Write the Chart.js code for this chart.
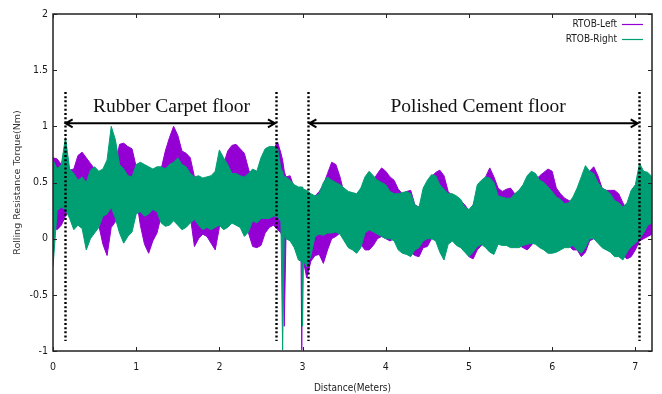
<!DOCTYPE html>
<html><head><meta charset="utf-8">
<script src="https://cdn.jsdelivr.net/npm/chart.js@4.4.0/dist/chart.umd.min.js"></script>
<style>html,body{margin:0;padding:0;background:#fff;}#wrap{width:662px;height:394px;}</style>
</head><body><div id="wrap"><canvas id="c" width="662" height="394"></canvas></div>
<script>
const distance = [0,0.05,0.1,0.15,0.2,0.25,0.3,0.35,0.4,0.45,0.5,0.55,0.6,0.65,0.7,0.75,0.8,0.85,0.9,0.95,1,1.05,1.1,1.15,1.2,1.25,1.3,1.35,1.4,1.45,1.5,1.55,1.6,1.65,1.7,1.75,1.8,1.85,1.9,1.95,2,2.05,2.1,2.15,2.2,2.25,2.3,2.35,2.4,2.45,2.5,2.55,2.6,
 2.65,2.7,2.74,2.76,2.78,2.8,2.85,2.9,2.95,2.98,2.99,3,3.01,3.05,3.1,
 3.15,3.2,3.25,3.3,3.35,3.4,3.45,3.5,3.55,3.6,3.65,3.7,3.75,3.8,3.85,3.9,3.95,4,4.05,4.1,4.15,4.2,4.25,4.3,4.35,4.4,4.45,4.5,4.55,4.6,4.65,4.7,4.75,4.8,4.85,4.9,4.95,5,5.05,5.1,5.15,5.2,5.25,5.3,5.35,5.4,5.45,5.5,5.55,5.6,5.65,5.7,5.75,5.8,5.85,5.9,5.95,6,6.05,6.1,6.15,6.2,6.25,6.3,6.35,6.4,6.45,6.5,6.55,6.6,6.65,6.7,6.75,6.8,6.85,6.9,6.95,7,7.05,7.1,7.15,7.2];

// RTOB-Left: upper and lower edge of the signal band
const leftHigh = [0.72,0.71,0.66,0.64,0.61,0.62,0.74,0.77,0.72,0.67,
 0.62,0.55,0.50,0.48,0.55,0.66,0.84,0.85,0.82,0.80,
 0.64,0.55,0.40,0.36,0.38,0.50,0.62,0.78,0.90,1.00,
 0.92,0.78,0.76,0.72,0.55,0.46,0.44,0.42,0.40,0.42,
 0.58,0.66,0.78,0.83,0.84,0.80,0.76,0.62,0.50,0.45,
 0.48,0.55,0.70,
 0.80,0.86,0.76,0.70,0.60,0.55,0.56,0.45,0.40,0.36,0.35,0.35,0.34,0.30,0.32,
 0.38,0.42,0.48,0.58,0.68,0.66,0.55,
 0.40,0.36,0.35,0.34,0.38,0.48,0.50,0.52,0.58,0.63,
 0.60,0.55,0.52,0.44,0.40,0.42,0.43,0.30,0.28,0.34,
 0.40,0.55,0.59,0.61,0.56,0.42,0.38,0.36,0.34,0.30,
 0.25,0.30,0.40,0.48,0.55,0.63,0.55,0.45,0.42,0.44,
 0.45,0.40,0.38,0.40,0.45,0.50,0.52,0.56,0.59,0.62,
 0.60,0.45,0.40,0.36,0.34,0.32,0.30,0.40,0.55,0.60,
 0.64,0.56,0.45,0.43,0.43,0.43,0.40,0.32,0.25,0.22,
 0.30,0.55,0.52,0.45,0.40];
const leftLow = [0.10,0.08,0.12,0.20,0.30,0.32,0.30,0.34,0.30,0.32,
 0.22,0.12,-0.05,-0.15,0.10,0.15,0.28,0.32,0.40,0.44,
 0.36,0.12,-0.05,-0.13,-0.02,0.05,0.20,0.32,0.36,0.40,
 0.50,0.46,0.44,0.20,-0.07,0.00,0.04,0.02,-0.04,-0.10,
 0.10,0.18,0.22,0.25,0.30,0.25,0.15,0.05,-0.07,-0.08,
 -0.06,0.05,0.10,
 0.12,0.08,0.05,0.00,-0.78,0.00,0.02,0.05,0.00,-0.05,-0.99,-0.10,-0.20,-0.35,-0.20,
 -0.15,-0.14,-0.22,-0.10,0.00,0.02,0.05,
 0.02,0.05,0.03,0.00,-0.05,-0.10,-0.10,-0.06,0.00,0.02,
 0.00,-0.02,0.00,-0.05,-0.08,-0.10,-0.12,-0.15,-0.16,-0.08,
 -0.07,0.00,0.02,0.05,0.06,0.06,0.08,0.04,0.00,-0.10,
 -0.16,-0.18,-0.10,-0.06,-0.02,0.05,0.06,0.02,0.00,0.00,
 0.00,-0.04,-0.06,-0.08,-0.10,-0.06,0.00,0.02,0.00,0.00,
 0.02,0.00,0.00,-0.04,-0.06,-0.10,-0.10,-0.16,-0.12,-0.02,
 0.00,0.02,0.00,-0.02,-0.05,-0.08,-0.10,-0.15,-0.18,-0.16,
 -0.10,-0.02,0.00,0.02,0.04];

// RTOB-Right: upper and lower edge of the signal band
const rightHigh = [0.70,0.62,0.66,0.90,0.62,0.58,0.52,0.55,0.50,0.61,
 0.64,0.60,0.62,0.70,1.00,0.88,0.66,0.62,0.56,0.55,
 0.66,0.68,0.66,0.64,0.62,0.64,0.64,0.62,0.66,0.68,
 0.72,0.66,0.64,0.58,0.55,0.56,0.54,0.55,0.56,0.60,
 0.79,0.72,0.66,0.58,0.58,0.56,0.55,0.58,0.62,0.60,
 0.72,0.80,0.82,
 0.82,0.80,0.62,0.60,0.55,0.55,0.52,0.48,0.46,0.46,0.46,0.46,0.44,0.43,0.40,
 0.38,0.40,0.50,0.55,0.52,0.50,0.48,
 0.45,0.42,0.41,0.40,0.45,0.55,0.60,0.56,0.52,0.50,
 0.48,0.42,0.40,0.40,0.41,0.42,0.40,0.30,0.28,0.45,
 0.52,0.57,0.56,0.48,0.44,0.40,0.40,0.38,0.35,0.28,
 0.26,0.30,0.48,0.52,0.55,0.54,0.50,0.38,0.37,0.36,
 0.36,0.40,0.43,0.48,0.56,0.60,0.58,0.52,0.50,0.46,
 0.42,0.37,0.35,0.31,0.32,0.37,0.45,0.55,0.65,0.60,
 0.58,0.50,0.45,0.43,0.40,0.34,0.32,0.28,0.32,0.43,
 0.48,0.67,0.60,0.59,0.55];
const rightLow = [-0.25,0.25,0.28,0.26,0.18,0.08,0.12,0.09,-0.10,0.00,
 0.05,0.10,0.20,0.22,0.28,0.18,0.05,-0.04,0.02,0.06,
 0.22,0.24,0.20,0.22,0.26,0.24,0.14,0.11,0.12,0.16,
 0.12,0.08,0.10,0.14,0.17,0.12,0.08,0.10,0.08,0.10,
 0.12,0.08,0.10,0.14,0.12,0.10,0.02,0.06,0.16,0.14,
 0.18,0.18,0.18,
 0.20,0.20,0.15,-0.99,0.05,0.00,-0.02,-0.08,-0.19,-0.20,-0.15,-0.78,-0.20,-0.25,-0.15,
 0.02,0.04,0.03,0.05,0.05,0.06,0.04,
 -0.02,-0.08,-0.10,-0.13,-0.08,0.05,0.08,0.06,0.04,0.02,
 0.00,0.00,-0.02,-0.10,-0.13,-0.14,-0.16,-0.10,-0.08,-0.02,
 0.00,0.00,-0.02,-0.12,-0.19,-0.05,-0.02,-0.06,-0.08,-0.12,
 -0.16,-0.12,-0.07,-0.05,-0.08,-0.12,-0.14,-0.05,-0.06,-0.06,
 -0.08,-0.08,-0.08,-0.06,-0.05,-0.04,-0.05,-0.08,-0.10,-0.13,
 -0.13,-0.12,-0.10,-0.08,-0.08,-0.06,-0.10,-0.13,-0.08,0.00,
 0.00,-0.04,-0.08,-0.10,-0.12,-0.16,-0.16,-0.19,-0.12,-0.07,
 -0.04,0.00,0.05,0.12,0.14];

const seriesNames = ['RTOB-Left', 'RTOB-Right'];
const xTickValues = [0, 1, 2, 3, 4, 5, 6, 7];
const xTickLabels = ['0', '1', '2', '3', '4', '5', '6', '7'];
const yTickValues = [-1, -0.5, 0, 0.5, 1, 1.5, 2];
const yTickLabels = ['-1', '-0.5', '0', '0.5', '1', '1.5', '2'];
const markerDistances = [0.14, 2.68, 3.07, 7.04];
const regionNames = ['Rubber Carpet floor', 'Polished Cement floor'];
const regionFrom = [0.14, 3.07];
const regionTo = [2.68, 7.04];
const regionLabelAt = [1.425, 5.11];

const PURPLE = '#9400d3';
const GREEN = '#009e73';
const NARROW = "'Liberation Sans Narrow','DejaVu Sans Condensed','Liberation Sans',sans-serif";
const TXT = '#1a1a1a';

function pts(arr) { return distance.map((x, i) => ({ x: x, y: arr[i] })); }

const overlay = {
  id: 'overlay',
  afterDatasetsDraw(chart) {
    const { ctx, chartArea: a, scales: { x, y } } = chart;
    ctx.save();
    // vertical dotted markers
    ctx.strokeStyle = '#000';
    ctx.lineWidth = 2.4;
    ctx.setLineDash([2, 2.2]);
    markerDistances.forEach(d => {
      const px = Math.round(x.getPixelForValue(d)) + 0.5;
      ctx.beginPath();
      ctx.moveTo(px, y.getPixelForValue(1.306));
      ctx.lineTo(px, y.getPixelForValue(-0.91));
      ctx.stroke();
    });
    ctx.setLineDash([]);
    // arrows and region labels
    const ay = y.getPixelForValue(1.027);
    ctx.lineWidth = 2;
    regionFrom.forEach((f, k) => {
      const x1 = x.getPixelForValue(f) + 1, x2 = x.getPixelForValue(regionTo[k]) - 1;
      ctx.beginPath();
      ctx.moveTo(x1, ay); ctx.lineTo(x2, ay);
      ctx.moveTo(x1 + 7, ay - 4); ctx.lineTo(x1, ay); ctx.lineTo(x1 + 7, ay + 4);
      ctx.moveTo(x2 - 7, ay - 4); ctx.lineTo(x2, ay); ctx.lineTo(x2 - 7, ay + 4);
      ctx.stroke();
      ctx.fillStyle = '#111';
      ctx.font = "19.5px 'Liberation Serif','DejaVu Serif',serif";
      ctx.textAlign = 'center';
      ctx.textBaseline = 'alphabetic';
      ctx.fillText(regionNames[k], x.getPixelForValue(regionLabelAt[k]), y.getPixelForValue(1.128));
    });
    // frame
    ctx.strokeStyle = '#222';
    ctx.lineWidth = 1.5;
    ctx.strokeRect(a.left, a.top, a.right - a.left, a.bottom - a.top);
    // inward ticks (mirrored)
    ctx.lineWidth = 1;
    ctx.beginPath();
    xTickValues.forEach(v => {
      const px = Math.round(x.getPixelForValue(v)) + 0.5;
      ctx.moveTo(px, a.bottom); ctx.lineTo(px, a.bottom - 4);
      ctx.moveTo(px, a.top); ctx.lineTo(px, a.top + 4);
    });
    yTickValues.forEach(v => {
      const py = Math.round(y.getPixelForValue(v)) + 0.5;
      ctx.moveTo(a.left, py); ctx.lineTo(a.left + 4, py);
      ctx.moveTo(a.right, py); ctx.lineTo(a.right - 4, py);
    });
    ctx.stroke();
    // legend
    ctx.font = '10px ' + NARROW;
    ctx.textAlign = 'right';
    ctx.textBaseline = 'middle';
    let row = 0;
    chart.data.datasets.forEach(ds => {
      if (!ds.label) return;
      const ly = a.top + 10 + row * 15;
      ctx.fillStyle = TXT;
      ctx.fillText(ds.label, a.right - 35, ly);
      ctx.strokeStyle = ds.borderColor;
      ctx.lineWidth = 1.2;
      ctx.beginPath();
      ctx.moveTo(a.right - 30, ly + 0.5); ctx.lineTo(a.right - 9, ly + 0.5);
      ctx.stroke();
      row++;
    });
    ctx.restore();
  }
};

const band = (label, arr, color, fill, order) => ({
  label: label, data: pts(arr), borderColor: color, backgroundColor: color,
  borderWidth: 1, pointRadius: 0, tension: 0, fill: fill, order: order
});

new Chart(document.getElementById('c'), {
  type: 'line',
  data: {
    datasets: [
      band(seriesNames[0], leftHigh, PURPLE, '+1', 2),
      band('', leftLow, PURPLE, false, 2),
      band(seriesNames[1], rightHigh, GREEN, '+1', 1),
      band('', rightLow, GREEN, false, 1)
    ]
  },
  options: {
    responsive: false,
    animation: false,
    layout: { padding: { top: 14, right: 10, left: 0, bottom: 0 } },
    plugins: { legend: { display: false }, tooltip: { enabled: false } },
    scales: {
      x: {
        type: 'linear', min: 0, max: 7.2,
        afterBuildTicks: s => { s.ticks = xTickValues.map(v => ({ value: v })); },
        afterFit: s => { s.height = 43; },
        grid: { display: false, drawTicks: false },
        border: { display: false },
        ticks: { padding: 10, maxRotation: 0, autoSkip: false, color: TXT, font: { family: NARROW, size: 10.5 },
                 callback: (v, i) => xTickLabels[i] },
        title: { display: true, text: 'Distance(Meters)', color: TXT, padding: { top: 0, bottom: 0 }, font: { family: NARROW, size: 10 } }
      },
      y: {
        type: 'linear', min: -1, max: 2,
        afterBuildTicks: s => { s.ticks = yTickValues.map(v => ({ value: v })); },
        afterFit: s => { s.width = 53; },
        grid: { display: false, drawTicks: false },
        border: { display: false },
        ticks: { padding: 5, autoSkip: false, color: TXT, font: { family: NARROW, size: 10.5 },
                 callback: (v, i) => yTickLabels[i] },
        title: { display: true, text: 'Rolling Resistance Torque(Nm)', color: '#333', padding: { top: 12, bottom: 0 }, font: { family: "'DejaVu Sans',sans-serif", size: 9.5 } }
      }
    }
  },
  plugins: [overlay]
});
</script>
</body></html>
